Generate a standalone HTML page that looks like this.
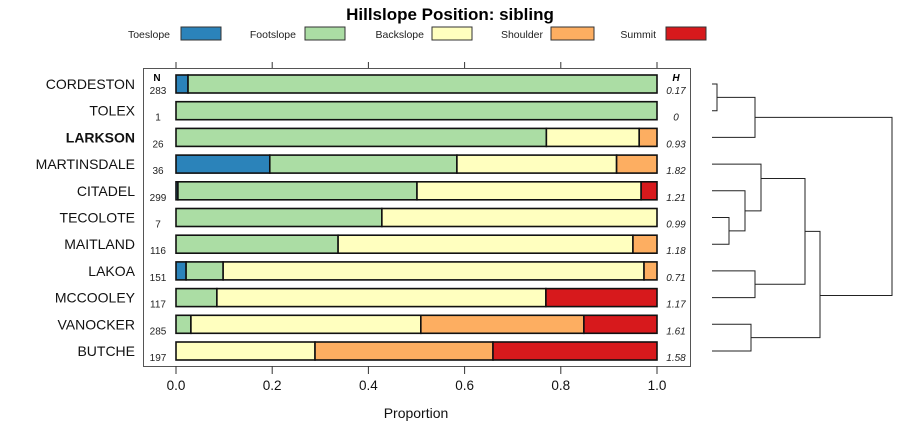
<!DOCTYPE html>
<html><head><meta charset="utf-8"><style>
body{margin:0;background:#fff}
svg{display:block;font-family:"Liberation Sans",Arial,sans-serif}
</style></head><body>
<svg id="chart" width="900" height="440" viewBox="0 0 900 440"></svg>
<script>
const categories=["CORDESTON","TOLEX","LARKSON","MARTINSDALE","CITADEL","TECOLOTE","MAITLAND","LAKOA","MCCOOLEY","VANOCKER","BUTCHE"];
const classes=["Toeslope","Footslope","Backslope","Shoulder","Summit"];
const toeslope=[0.025,0,0,0.195,0.004,0,0,0.021,0,0,0];
const footslope=[0.975,1,0.77,0.389,0.497,0.428,0.337,0.077,0.085,0.031,0];
const backslope=[0,0,0.193,0.332,0.466,0.572,0.613,0.875,0.684,0.478,0.289];
const shoulder=[0,0,0.037,0.084,0,0,0.05,0.027,0,0.339,0.37];
const summit=[0,0,0,0,0.033,0,0,0,0.231,0.152,0.341];
const nCounts=["283","1","26","36","299","7","116","151","117","285","197"];
const hValues=["0.17","0","0.93","1.82","1.21","0.99","1.18","0.71","1.17","1.61","1.58"];
const xTicks=[0,0.2,0.4,0.6,0.8,1.0];
const series=[toeslope,footslope,backslope,shoulder,summit];
const colors=["#2b83ba","#abdda4","#ffffbf","#fdae61","#d7191c"];
const svg=document.getElementById('chart');
const NS="http://www.w3.org/2000/svg";
function mk(tag,attrs,parent){const e=document.createElementNS(NS,tag);for(const k in attrs)e.setAttribute(k,attrs[k]);(parent||svg).appendChild(e);return e;}
const x=v=>176+v*481;
const y=i=>84+i*26.7;
let t=mk('text',{x:450,y:20,'text-anchor':'middle','font-size':17,'font-weight':'bold'});t.textContent="Hillslope Position: sibling";


const legX=[[170,181,221],[296,305,345],[424,432,472],[543,551,594],[656,666,706]];
classes.forEach((c,i)=>{
 const g=mk('g',{});
 
 
 const tt=mk('text',{x:legX[i][0],y:38,'text-anchor':'end','font-size':10.5,fill:'#222'},g);tt.textContent=c;
 mk('rect',{x:legX[i][1],y:27,width:legX[i][2]-legX[i][1],height:13,fill:colors[i],stroke:'#333','stroke-width':1},g);
});
const panel=mk('rect',{x:143.5,y:68.5,width:547,height:298,fill:'none',stroke:'#555','stroke-width':1});


xTicks.forEach(v=>{
 mk('line',{x1:x(v),x2:x(v),y1:62,y2:68,stroke:'#333'});
 mk('line',{x1:x(v),x2:x(v),y1:366,y2:374,stroke:'#333'});
 const l=mk('text',{x:x(v),y:390,'text-anchor':'middle','font-size':13.5,fill:'#111'});l.textContent=v.toFixed(1);
 
 
});
const xt=mk('text',{x:416,y:418,'text-anchor':'middle','font-size':14,fill:'#111'});xt.textContent="Proportion";


let hN=mk('text',{x:157,y:81,'text-anchor':'middle','font-size':10,'font-weight':'bold'});hN.textContent="N";
let hH=mk('text',{x:676,y:81,'text-anchor':'middle','font-size':10,'font-weight':'bold','font-style':'italic'});hH.textContent="H";
categories.forEach((c,i)=>{
 const cy=y(i);
 const lab=mk('text',{x:135,y:cy+5,'text-anchor':'end','font-size':14,fill:'#111','font-weight':c==="LARKSON"?'bold':'normal'});lab.textContent=c;
 
 
 const n=mk('text',{x:158,y:cy+10,'text-anchor':'middle','font-size':10,fill:'#222'});n.textContent=nCounts[i];
 
 
 const h=mk('text',{x:676,y:cy+10,'text-anchor':'middle','font-size':10,fill:'#222','font-style':'italic'});h.textContent=hValues[i];
 
 
 let acc=0;
 series.forEach((s,j)=>{
  const v=s[i];if(v<=0)return;
  const r=mk('rect',{x:x(acc),y:cy-9,width:x(acc+v)-x(acc),height:18,fill:colors[j],stroke:'#111','stroke-width':1.6});
  
  
  acc+=v;
 });
});
// dendrogram
const dg=mk('g',{stroke:'#222','stroke-width':1,fill:'none'});


function link(xl,y1,x1c,y2,x2c,xn){mk('path',{d:`M${x1c} ${y1}H${xn}V${y2}H${x2c}`},dg);}
const L=712;
link(0,y(0),L,y(1),L,717);
const m01=(y(0)+y(1))/2;
link(0,m01,717,y(2),L,755);
const mA=(m01+y(2))/2;
link(0,y(5),L,y(6),L,729);
const m56=(y(5)+y(6))/2;
link(0,y(4),L,m56,729,745);
const m456=(y(4)+m56)/2;
link(0,y(3),L,m456,745,761);
const m3=(y(3)+m456)/2-9;
link(0,y(7),L,y(8),L,755);
const m78=(y(7)+y(8))/2;
link(0,m3,761,m78,755,805);
const mB=(m3+m78)/2;
link(0,y(9),L,y(10),L,751);
const m910=(y(9)+y(10))/2;
link(0,mB,805,m910,751,820);
const mC=(mB+m910)/2+11;
link(0,mA,755,mC,820,892);
</script>
</body></html>
